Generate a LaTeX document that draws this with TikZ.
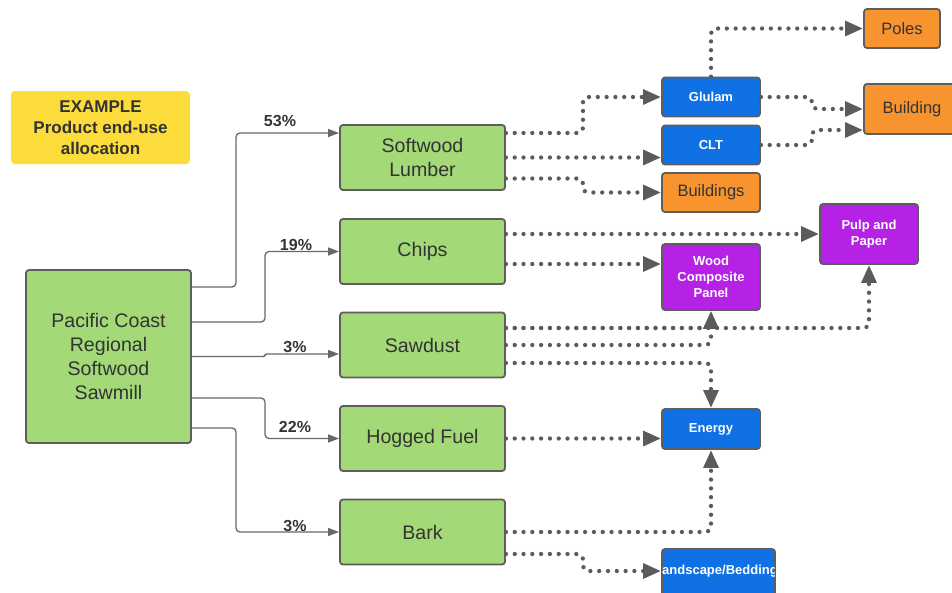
\documentclass[tikz,border=0pt]{standalone}
\usepackage{fontspec}
\setmainfont{Liberation Sans}
\usetikzlibrary{arrows.meta}
\definecolor{gfill}{HTML}{A3D977}
\definecolor{bfill}{HTML}{1071E5}
\definecolor{ofill}{HTML}{F7942F}
\definecolor{pfill}{HTML}{B621E6}
\definecolor{yfill}{HTML}{FCDC3B}
\definecolor{bordc}{HTML}{5E5E5E}
\definecolor{txt}{HTML}{333333}
\definecolor{lc}{HTML}{686868}
\definecolor{dc}{HTML}{5B5B5B}
\begin{document}
\begin{tikzpicture}[x=1pt,y=-1pt,
  box/.style={draw=bordc, line width=1.8pt, rounded corners=3pt, align=center, inner sep=0pt},
  gbox/.style={box, fill=gfill, text=txt, font=\fontsize{19.6}{24}\selectfont, minimum width=165pt, minimum height=65pt},
  bbox/.style={box, fill=bfill, text=white, font=\bfseries\fontsize{13}{16}\selectfont, minimum width=98pt, minimum height=39pt},
  pbox/.style={box, fill=pfill, text=white, font=\bfseries\fontsize{13}{16}\selectfont, minimum width=98pt},
  obox/.style={box, fill=ofill, text=txt, font=\fontsize{16.5}{20}\selectfont, minimum width=98pt, minimum height=39pt},
  pct/.style={font=\bfseries\fontsize{16}{19}\selectfont, text=txt, inner sep=0pt},
  flow/.style={draw=lc, line width=1.3pt, rounded corners=4pt, -{Triangle[length=11pt,width=8pt]}},
  dflow/.style={draw=dc, line width=4.3pt, line cap=round, dash pattern=on 0pt off 8.8pt, rounded corners=5pt, -{Triangle[length=18pt,width=14.5pt]}}
]
\useasboundingbox (0,0) rectangle (952,592);
\clip (0,0) rectangle (952,592);

% example label
\node[fill=yfill, rounded corners=4pt, minimum width=179pt, minimum height=73pt, align=center, text=txt,
  font=\bfseries\fontsize{17}{21}\selectfont, inner sep=0pt] (ex) at (100.5,127.5) {EXAMPLE\\Product end-use\\allocation};

% sawmill
\node[gbox, minimum height=173pt] (mill) at (108.5,356.5) {Pacific Coast\\Regional\\Softwood\\Sawmill};

% products
\node[gbox] (sl) at (422.5,157.5) {Softwood\\Lumber};
\node[gbox] (chips) at (422.5,251.5) {Chips};
\node[gbox] (sd) at (422.5,345) {Sawdust};
\node[gbox] (hog) at (422.5,438.5) {Hogged Fuel};
\node[gbox] (bark) at (422.5,532) {Bark};

% end uses
\node[bbox] (glulam) at (711,97) {Glulam};
\node[bbox] (clt) at (711,145) {CLT};
\node[obox] (blds) at (711,192.5) {Buildings};
\node[obox, minimum width=76pt] (poles) at (902,28.5) {Poles};
\node[obox, minimum width=100pt, minimum height=50pt] (bldg) at (914,109) {\hspace*{-4pt}Building};
\node[pbox, minimum height=60pt] (pulp) at (869,234) {Pulp and\\Paper};
\node[pbox, minimum height=66pt] (wcp) at (711,277) {Wood\\Composite\\Panel};
\node[bbox, minimum height=40pt] (energy) at (711,429) {Energy};
\node[bbox, minimum width=113pt, minimum height=48pt] (land) at (718.5,573) {};
\begin{scope}
  \clip ([xshift=1pt]land.south west) rectangle ([xshift=-1pt]land.north east);
  \node[text=white, font=\bfseries\fontsize{13}{16}\selectfont, inner sep=0pt] (landtxt) at (716,571) {Landscape/Bedding};
\end{scope}

% percentages
\node[pct] (p1) at (280,121) {53\%};
\node[pct] (p2) at (296,245) {19\%};
\node[pct] (p3) at (295,347) {3\%};
\node[pct] (p4) at (295,427) {22\%};
\node[pct] (p5) at (295,525.5) {3\%};

% solid flows from the sawmill
\draw[flow] ([yshift=69.5pt]mill.east) -| (236,133) -- ([yshift=24.5pt]sl.west);
\draw[flow] ([yshift=34.5pt]mill.east) -| (265,251.5) -- (chips.west);
\draw[flow, rounded corners=1.5pt] (mill.east) -| (265,354) -- ([yshift=-9pt]sd.west);
\draw[flow] ([yshift=-41.5pt]mill.east) -| (265,438.5) -- (hog.west);
\draw[flow] ([yshift=-71.5pt]mill.east) -| (236,532) -- (bark.west);

% dotted flows
\coordinate (sl1) at ([yshift=24.5pt]sl.east);
\coordinate (sl3) at ([yshift=-21pt]sl.east);
\draw[dflow] (sl1) -| (583,97) -- (glulam.west);
\draw[dflow] (sl.east) -- (sl.east -| clt.west);
\draw[dflow] (sl3) -| (583,192.5) -- (blds.west);

\draw[dflow] (glulam.north) |- (poles.west);
\draw[dflow] (glulam.east) -| (812,109) -- (bldg.west);
\draw[dflow] (clt.east) -| (812,130) -- ([yshift=-21pt]bldg.west);

\coordinate (ch1) at ([yshift=17.5pt]chips.east);
\coordinate (ch2) at ([yshift=-12.5pt]chips.east);
\draw[dflow] (ch1) -- (ch1 -| pulp.west);
\draw[dflow] (ch2) -- (ch2 -| wcp.west);

\coordinate (sd1) at ([yshift=17pt]sd.east);
\coordinate (sd3) at ([yshift=-18pt]sd.east);
\draw[dflow] (sd1) -| (pulp.south);
\draw[dflow] (sd1) -| (wcp.south);
\draw[dflow] (sd.east) -| (wcp.south);
\draw[dflow] (sd3) -| (energy.north);

\draw[dflow] (hog.east) -- (hog.east -| energy.west);

\coordinate (bk2) at ([yshift=-22pt]bark.east);
\draw[dflow] (bark.east) -| (energy.south);
\draw[dflow] (bk2) -| (583,571) -- (land.west |- 0,571);
\end{tikzpicture}
\end{document}
